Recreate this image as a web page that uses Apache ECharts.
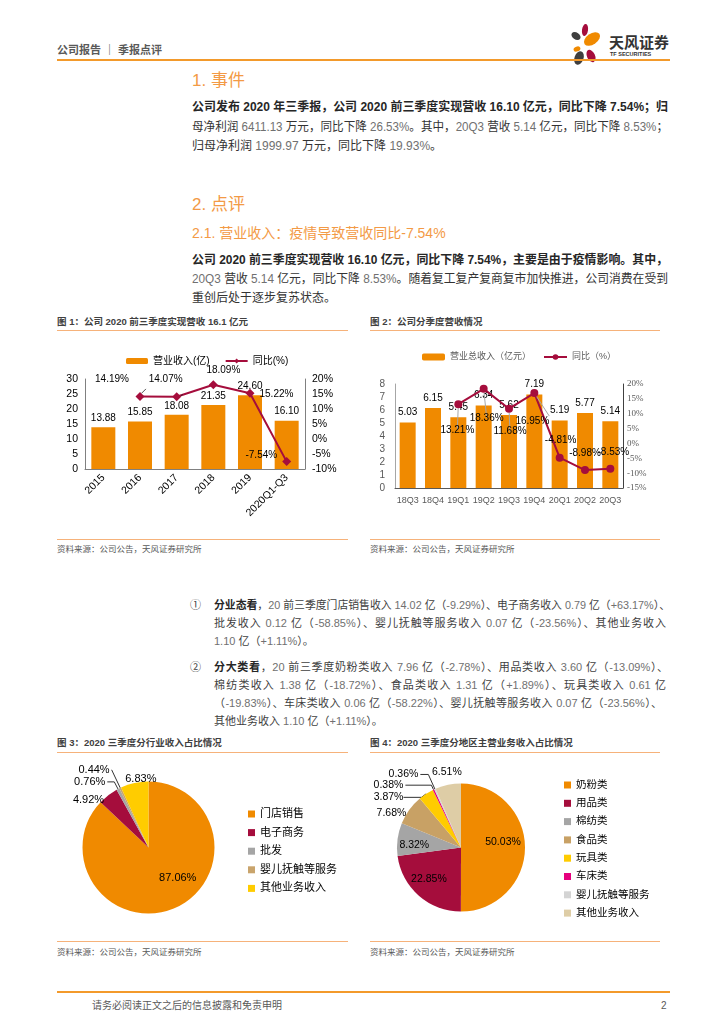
<!DOCTYPE html>
<html lang="zh-CN">
<head>
<meta charset="utf-8">
<title>公司报告 | 季报点评</title>
<script src="https://cdn.jsdelivr.net/npm/echarts@6.0.0/dist/echarts.min.js"></script>
<style>
html,body{margin:0;padding:0;background:#fff;}
body{width:724px;height:1024px;position:relative;overflow:hidden;font-family:"Liberation Sans","Noto Sans CJK SC",sans-serif;color:#333;}
.t{position:absolute;white-space:nowrap;line-height:1;}
.hd{font-size:11px;color:#595959;font-weight:bold;}
.h1{font-size:17px;color:#F39A45;}
.h2{font-size:14px;color:#F39A45;}
.p{font-size:12px;color:#333;}
.pb{font-size:12px;color:#262626;font-weight:bold;}
.q{font-size:11px;color:#404040;}
.n{color:#707070;}
.b{font-weight:bold;color:#262626;}
.figt{font-size:9.5px;font-weight:bold;color:#404040;}
.src{font-size:8.5px;color:#595959;}
.foot{font-size:10px;color:#595959;}
.rule{position:absolute;height:1px;background:#F6B27A;}
.chart{position:absolute;}
</style>
</head>
<body>
<svg style="position:absolute;left:565px;top:20px" width="40" height="48" viewBox="0 0 40 48">
  <ellipse cx="20" cy="10" rx="3" ry="6" fill="#A50D3C" transform="rotate(8 20 10)"/>
  <ellipse cx="11" cy="16" rx="5" ry="3.5" fill="#3F3F3F" transform="rotate(35 11 16)"/>
  <ellipse cx="27" cy="19" rx="9" ry="5.5" fill="#F08A00" transform="rotate(-35 27 19)"/>
  <ellipse cx="12" cy="29" rx="3.5" ry="2.5" fill="#F08A00" transform="rotate(-20 12 29)"/>
  <ellipse cx="14" cy="38" rx="4.5" ry="7" fill="#3F3F3F" transform="rotate(20 14 38)"/>
  <ellipse cx="26" cy="36" rx="4" ry="6.5" fill="#A50D3C" transform="rotate(-25 26 36)"/>
</svg>
<div class="t" style="left:609px;top:34px;font-size:15px;font-weight:bold;color:#333;font-family:'Noto Sans CJK SC';">天风证券</div>
<div class="t" style="left:610px;top:52px;font-size:5.5px;font-weight:bold;color:#333;">TF SECURITIES</div>
<div class="rule" style="left:57px;top:59px;width:613px;height:2px;background:#F39A2B"></div>

<div id="c1" class="chart" style="left:57px;top:335px;width:295px;height:200px"></div>
<div id="c2" class="chart" style="left:370px;top:335px;width:290px;height:200px"></div>
<div id="c3" class="chart" style="left:57px;top:755px;width:295px;height:182px"></div>
<div id="c4" class="chart" style="left:370px;top:755px;width:290px;height:182px"></div>

<div class="rule" style="left:57px;top:330px;width:291px"></div>
<div class="rule" style="left:370px;top:330px;width:290px"></div>
<div class="rule" style="left:57px;top:539px;width:291px"></div>
<div class="rule" style="left:370px;top:539px;width:290px"></div>
<div class="rule" style="left:57px;top:752px;width:291px"></div>
<div class="rule" style="left:370px;top:752px;width:290px"></div>
<div class="rule" style="left:57px;top:941px;width:291px"></div>
<div class="rule" style="left:370px;top:941px;width:290px"></div>
<div class="rule" style="left:57px;top:991px;width:613px;height:2px;background:#F39A2B"></div>

<script>
// ---------- data ----------
const fig1Categories = ['2015', '2016', '2017', '2018', '2019', '2020Q1-Q3'];
const fig1Revenue = [13.88, 15.85, 18.08, 21.35, 24.60, 16.10];
const fig1Growth = [null, 14.19, 14.07, 18.09, 15.22, -7.54];
const fig1RevenueTicks = { min: 0, max: 30, interval: 5 };
const fig1GrowthTicks = { min: -10, max: 20, interval: 5 };

const fig2Categories = ['18Q3', '18Q4', '19Q1', '19Q2', '19Q3', '19Q4', '20Q1', '20Q2', '20Q3'];
const fig2Revenue = [5.03, 6.15, 5.45, 6.34, 5.62, 7.19, 5.19, 5.77, 5.14];
const fig2Growth = [null, null, 13.21, 18.36, 11.68, 16.95, -4.81, -8.98, -8.53];
const fig2RevenueTicks = { min: 0, max: 8, interval: 1 };
const fig2GrowthTicks = { min: -15, max: 20, interval: 5 };

const fig3Names = ['门店销售', '电子商务', '批发', '婴儿抚触等服务', '其他业务收入'];
const fig3Shares = [87.06, 4.92, 0.76, 0.44, 6.83];

const fig4Names = ['奶粉类', '用品类', '棉纺类', '食品类', '玩具类', '车床类', '婴儿抚触等服务', '其他业务收入'];
const fig4Shares = [50.03, 22.85, 8.32, 7.68, 3.87, 0.38, 0.36, 6.51];

// ---------- styles ----------
const ORANGE = '#F08A00', CRIMSON = '#A50D3C';
const FONT = 'Liberation Sans, Noto Sans CJK SC, sans-serif';
const fig3Colors = [ORANGE, CRIMSON, '#A5A5A5', '#C9A46C', '#FFCC00'];
const fig4Colors = [ORANGE, CRIMSON, '#A5A5A5', '#C8A165', '#FFCC00', '#E6007E', '#D4D4D4', '#DECDA6'];

const fig1GrowthLabel = [null,
  { position: 'top', offset: [-28, -3], guide: true },
  { position: 'top', offset: [-11, -3], guide: true },
  { position: 'top', offset: [10, 0] },
  { position: 'right', offset: [0, 1] },
  { position: 'left', offset: [0, -6] }];
const fig2GrowthLabel = [null, null,
  { position: 'bottom', offset: [-1, 12], guide: true },
  { position: 'bottom', offset: [3, 15], guide: true },
  { position: 'bottom', offset: [1, 9], guide: true },
  { position: 'bottom', offset: [-2, 14], guide: true },
  { position: 'top', offset: [1, -3] },
  { position: 'top', offset: [0, -3] },
  { position: 'top', offset: [3, -3] }];

// pie label placement (per slice)
const fig3LabelCfg = [
  { pos: 'inside', shift: [15, -3] },
  { pos: 'outside', line: false, len: 0, len2: 0, shift: [-2, 5] },
  { pos: 'outside', line: true, len: 8, len2: 7 },
  { pos: 'outside', line: true, len: 20, len2: 0 },
  { pos: 'inside', shift: [0, -33] }];
const fig4LabelCfg = [
  { pos: 'inside', shift: [7, -5] },
  { pos: 'inside', shift: [-9, 5] },
  { pos: 'inside', shift: [-12, 2] },
  { pos: 'outside', line: false, len: 0, len2: 0, shift: [-1, 3] },
  { pos: 'outside', line: true, len: 3, len2: 18, shift: [-1, 6] },
  { pos: 'outside', line: true, len: 5, len2: 26 },
  { pos: 'outside', line: true, len: 16, len2: 8 },
  { pos: 'inside', shift: [-7, -41] }];

// ---------- text ----------
function place(x, y, html, cls, w) {
  const d = document.createElement('div');
  d.className = 't ' + cls;
  d.innerHTML = html;
  d.style.left = x + 'px';
  document.body.appendChild(d);
  const fs = parseFloat(getComputedStyle(d).fontSize);
  d.style.top = (y - fs * 0.5) + 'px';
  if (w) {
    const nat = d.getBoundingClientRect().width;
    if (nat > w) {
      d.style.transformOrigin = '0 0';
      d.style.transform = 'scaleX(' + (w / nat) + ')';
    } else {
      d.style.width = w + 'px';
      d.style.textAlign = 'justify';
      d.style.textAlignLast = 'justify';
    }
  }
  return d;
}
const N = s => '<span class="n">' + s + '</span>';
place(57, 50, '公司报告 ｜ 季报点评', 'hd');
place(192, 80, '1. 事件', 'h1');
place(192, 107, '公司发布 2020 年三季报，公司 2020 前三季度实现营收 16.10 亿元，同比下降 7.54%；归', 'pb', 476);
place(192, 127, '母净利润 ' + N('6411.13') + ' 万元，同比下降 ' + N('26.53%') + '。其中，' + N('20Q3') + ' 营收 ' + N('5.14') + ' 亿元，同比下降 ' + N('8.53%') + '；', 'p', 476);
place(192, 146, '归母净利润 ' + N('1999.97') + ' 万元，同比下降 ' + N('19.93%') + '。', 'p');
place(192, 204, '2. 点评', 'h1');
place(192, 233, '2.1. 营业收入：疫情导致营收同比-7.54%', 'h2');
place(192, 260, '公司 2020 前三季度实现营收 16.10 亿元，同比下降 7.54%，主要是由于疫情影响。其中，', 'pb', 476);
place(192, 279, N('20Q3') + ' 营收 ' + N('5.14') + ' 亿元，同比下降 ' + N('8.53%') + '。随着复工复产复商复市加快推进，公司消费在受到', 'p', 476);
place(192, 298, '重创后处于逐步复苏状态。', 'p');

place(57, 322, '图 1：公司 2020 前三季度实现营收 16.1 亿元', 'figt');
place(370, 322, '图 2：公司分季度营收情况', 'figt');
place(57, 549, '资料来源：公司公告，天风证券研究所', 'src');
place(370, 549, '资料来源：公司公告，天风证券研究所', 'src');

place(190, 605, '①', 'q');
place(214, 605, '<span class="b">分业态看</span>，' + N('20') + ' 前三季度门店销售收入 ' + N('14.02') + ' 亿（' + N('-9.29%') + '）、电子商务收入 ' + N('0.79') + ' 亿（' + N('+63.17%') + '）、', 'q', 456);
place(214, 623, '批发收入 ' + N('0.12') + ' 亿（' + N('-58.85%') + '）、婴儿抚触等服务收入 ' + N('0.07') + ' 亿（' + N('-23.56%') + '）、其他业务收入', 'q', 452);
place(214, 641, N('1.10') + ' 亿（' + N('+1.11%') + '）。', 'q');
place(190, 667, '②', 'q');
place(214, 667, '<span class="b">分大类看</span>，' + N('20') + ' 前三季度奶粉类收入 ' + N('7.96') + ' 亿（' + N('-2.78%') + '）、用品类收入 ' + N('3.60') + ' 亿（' + N('-13.09%') + '）、', 'q', 454);
place(214, 685, '棉纺类收入 ' + N('1.38') + ' 亿（' + N('-18.72%') + '）、食品类收入 ' + N('1.31') + ' 亿（' + N('+1.89%') + '）、玩具类收入 ' + N('0.61') + ' 亿', 'q', 452);
place(214, 703, '（' + N('-19.83%') + '）、车床类收入 ' + N('0.06') + ' 亿（' + N('-58.22%') + '）、婴儿抚触等服务收入 ' + N('0.07') + ' 亿（' + N('-23.56%') + '）、', 'q', 448);
place(214, 721, '其他业务收入 ' + N('1.10') + ' 亿（' + N('+1.11%') + '）。', 'q');

place(57, 743, '图 3：2020 三季度分行业收入占比情况', 'figt');
place(370, 743, '图 4：2020 三季度分地区主营业务收入占比情况', 'figt');
place(57, 952, '资料来源：公司公告，天风证券研究所', 'src');
place(370, 952, '资料来源：公司公告，天风证券研究所', 'src');
place(92, 1006, '请务必阅读正文之后的信息披露和免责申明', 'foot');
place(661, 1006, '2', 'foot');

// ---------- charts ----------
const pct = v => v.toFixed(2) + '%';
function lineData(values, cfg) {
  return values.map((v, i) => v == null ? null : {
    value: v,
    label: { position: cfg[i].position, offset: cfg[i].offset },
    labelLine: { show: !!cfg[i].guide }
  });
}

// Figure 1
echarts.init(document.getElementById('c1')).setOption({
  animation: false,
  textStyle: { fontFamily: FONT },
  legend: {
    left: 64, top: 15, itemWidth: 22, itemHeight: 6, itemGap: 15,
    textStyle: { fontSize: 10, color: '#000', lineHeight: 12 },
    data: ['营业收入(亿)', '同比(%)']
  },
  grid: { left: 28, right: 47, top: 44, height: 90 },
  xAxis: {
    type: 'category', data: fig1Categories,
    axisLine: { lineStyle: { color: '#808080' } }, axisTick: { show: false },
    axisLabel: { rotate: 45, interval: 0, fontSize: 10.5, color: '#000', margin: 7 }
  },
  yAxis: [
    { type: 'value', ...fig1RevenueTicks, axisLine: { show: true, lineStyle: { color: '#808080' } },
      axisTick: { show: false }, splitLine: { show: false }, axisLabel: { fontSize: 10.5, color: '#000', margin: 7 } },
    { type: 'value', ...fig1GrowthTicks, position: 'right', axisLine: { show: true, lineStyle: { color: '#808080' } },
      axisTick: { show: false }, splitLine: { show: false },
      axisLabel: { fontSize: 10.5, color: '#000', margin: 7, formatter: '{value}%' } }
  ],
  series: [
    { name: '营业收入(亿)', type: 'bar', data: fig1Revenue, barWidth: 24,
      itemStyle: { color: ORANGE },
      label: { show: true, position: 'top', distance: 4, fontSize: 10, color: '#000', formatter: p => p.value.toFixed(2) } },
    { name: '同比(%)', type: 'line', yAxisIndex: 1, z: 5,
      data: lineData(fig1Growth, fig1GrowthLabel),
      symbol: 'diamond', symbolSize: 9, lineStyle: { color: CRIMSON, width: 2 }, itemStyle: { color: CRIMSON },
      label: { show: true, fontSize: 10, color: '#000', formatter: p => pct(p.value) },
      labelLine: { show: false, lineStyle: { color: '#262626', width: 0.8 } } }
  ]
});

// Figure 2
echarts.init(document.getElementById('c2')).setOption({
  animation: false,
  textStyle: { fontFamily: FONT },
  legend: {
    left: 47, top: 11, itemWidth: 23, itemHeight: 7, itemGap: 12,
    textStyle: { fontSize: 9, color: '#595959', lineHeight: 12 },
    data: ['营业总收入（亿元）', '同比（%）']
  },
  grid: { left: 25, right: 37, top: 49, height: 104 },
  xAxis: {
    type: 'category', data: fig2Categories,
    axisLine: { lineStyle: { color: '#595959' } }, axisTick: { show: false },
    axisLabel: { interval: 0, fontSize: 9, color: '#595959', margin: 8 }
  },
  yAxis: [
    { type: 'value', ...fig2RevenueTicks, axisLine: { show: true, lineStyle: { color: '#A6A6A6' } },
      axisTick: { show: false }, splitLine: { show: false }, axisLabel: { fontSize: 10, color: '#595959', margin: 10 } },
    { type: 'value', ...fig2GrowthTicks, position: 'right', axisLine: { show: true, lineStyle: { color: '#404040' } },
      axisTick: { show: false }, splitLine: { show: false },
      axisLabel: { fontSize: 9, color: '#595959', margin: 4, fontFamily: 'Liberation Serif', formatter: '{value}%' } }
  ],
  series: [
    { name: '营业总收入（亿元）', type: 'bar', data: fig2Revenue, barWidth: 16,
      itemStyle: { color: ORANGE },
      label: { show: true, position: 'top', distance: 5, fontSize: 10, color: '#000', formatter: p => p.value.toFixed(2) } },
    { name: '同比（%）', type: 'line', yAxisIndex: 1, z: 5,
      data: lineData(fig2Growth, fig2GrowthLabel),
      symbol: 'circle', symbolSize: 8, lineStyle: { color: CRIMSON, width: 2 }, itemStyle: { color: CRIMSON },
      label: { show: true, fontSize: 10, color: '#000', formatter: p => pct(p.value) },
      labelLine: { show: false, lineStyle: { color: '#A6A6A6', width: 1 } } }
  ]
});

function pieData(names, values, colors, cfg) {
  return names.map((n, i) => ({
    name: n, value: values[i],
    itemStyle: { color: colors[i] },
    label: { position: cfg[i].pos, distanceToLabelLine: 2 },
    labelLine: { show: !!cfg[i].line, length: cfg[i].len || 0, length2: cfg[i].len2 || 0 }
  }));
}
function pieLayout(cfg) {
  return p => {
    const s = cfg[p.dataIndex].shift;
    if (!s) return {};
    return { x: p.labelRect.x + s[0], y: p.labelRect.y + s[1], align: 'left', verticalAlign: 'top' };
  };
}
function pieLegend(names, colors, left, top, gap, fs) {
  return {
    orient: 'vertical', left: left, top: top, itemWidth: 7, itemHeight: 7, itemGap: gap, icon: 'rect',
    textStyle: { fontSize: fs, color: '#000', lineHeight: 12 },
    data: names.map((n, i) => ({ name: n, itemStyle: { color: colors[i] } }))
  };
}

// Figure 3
echarts.init(document.getElementById('c3')).setOption({
  animation: false,
  textStyle: { fontFamily: FONT },
  legend: pieLegend(fig3Names, fig3Colors, 186, 48, 6.6, 11),
  series: [{
    type: 'pie', center: [91.5, 92.5], radius: 66, startAngle: 90, clockwise: true,
    avoidLabelOverlap: false, minShowLabelAngle: 0, silent: true,
    data: pieData(fig3Names, fig3Shares, fig3Colors, fig3LabelCfg),
    label: { show: true, fontSize: 11, color: '#000', formatter: p => pct(p.value) },
    labelLine: { lineStyle: { color: '#333', width: 1 } },
    labelLayout: pieLayout(fig3LabelCfg)
  }]
});

// Figure 4
echarts.init(document.getElementById('c4')).setOption({
  animation: false,
  textStyle: { fontFamily: FONT },
  legend: pieLegend(fig4Names, fig4Colors, 189, 19, 6.3, 10.5),
  series: [{
    type: 'pie', center: [91, 92.5], radius: 64, startAngle: 90, clockwise: true,
    avoidLabelOverlap: false, minShowLabelAngle: 0, silent: true,
    data: pieData(fig4Names, fig4Shares, fig4Colors, fig4LabelCfg),
    label: { show: true, fontSize: 10.5, color: '#000', formatter: p => pct(p.value) },
    labelLine: { lineStyle: { color: '#333', width: 1 } },
    labelLayout: pieLayout(fig4LabelCfg)
  }]
});
</script>
</body>
</html>
